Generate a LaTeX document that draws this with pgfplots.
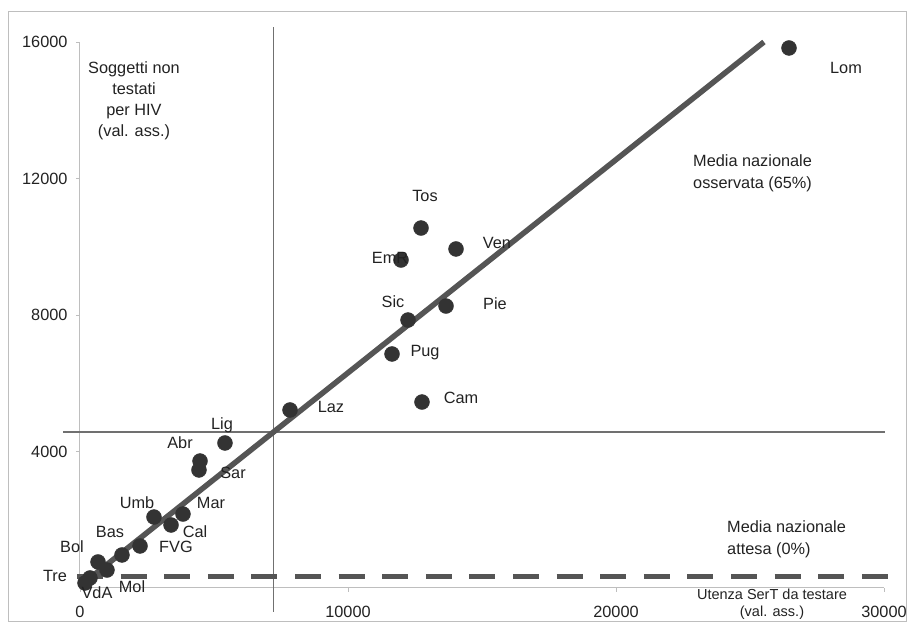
\documentclass[border=0pt]{standalone}
\usepackage{fontspec}
\setmainfont{Liberation Sans}
\usepackage{pgfplots}
\pgfplotsset{compat=1.18}
\definecolor{pt}{HTML}{333333}
\definecolor{ln}{HTML}{555555}
\definecolor{gl}{HTML}{707070}
\definecolor{ax}{HTML}{BEBEBE}
\definecolor{tx}{HTML}{222222}
\begin{document}
\begin{tikzpicture}[x=1pt,y=1pt,
  lbl/.style={font=\fontsize{16.3}{19}\selectfont, text=tx, inner sep=0pt, text height=11.7pt, text depth=0pt, anchor=center}]
\useasboundingbox (0,0) rectangle (910,628);
\draw[ax, line width=1pt] (8,6) rectangle (906,616);
\begin{axis}[
  at={(80pt,40pt)}, anchor=south west,
  scale only axis, width=804pt, height=546pt,
  xmin=0, xmax=30000, ymin=0, ymax=16000,
  axis x line=bottom, axis y line=left,
  axis line style={-, ax, line width=1pt},
  xtick={0,10000,20000,30000}, ytick={4000,8000,12000,16000},
  tick align=outside, major tick length=4pt,
  tick style={ax, line width=0.8pt},
  scaled ticks=false,
  /pgf/number format/1000 sep={},
  /pgf/number format/assume math mode=true,
  tick label style={font=\fontsize{16.3}{19}\selectfont, text=tx},
  xticklabel style={yshift=-11pt},
  yticklabel style={xshift=-5pt},
  clip=false,
]
% regional points (x: SerT users to test, y: subjects not tested for HIV)
\addplot[only marks, mark=*, mark size=7.5pt, mark options={fill=pt, draw=pt}] coordinates {
  (26455,15824) (12724,10549) (14030,9934) (11978,9611) (13657,8263)
  (12239,7853) (11642,6857) (12761,5450) (7836,5216) (5410,4249)
  (4478,3721) (4440,3458) (3843,2168) (2761,2080) (3396,1846)
  (2239,1231) (1567,967) (672,762) (1007,527) (373,293) (187,147)
};
% reference lines
\addplot[gl, line width=1.5pt] coordinates {(7220,-700) (7220,16450)};
\addplot[gl, line width=1.5pt] coordinates {(-630,4570) (30050,4570)};
\addplot[ln, line width=5pt, dash pattern=on 26pt off 17.6pt] coordinates {(-110,350) (30160,350)};
\addplot[ln, line width=5.5pt] coordinates {(0,60) (25520,16000)};
\end{axis}
% region labels
\node[lbl] at (846,{628-68}) {Lom};
\node[lbl] at (425,{628-196}) {Tos};
\node[lbl] at (497,{628-243}) {Ven};
\node[lbl] at (390,{628-258}) {EmR};
\node[lbl] at (495,{628-304}) {Pie};
\node[lbl] at (393,{628-302}) {Sic};
\node[lbl] at (425,{628-351}) {Pug};
\node[lbl] at (461,{628-398}) {Cam};
\node[lbl] at (331,{628-407}) {Laz};
\node[lbl] at (222,{628-424}) {Lig};
\node[lbl] at (180,{628-443}) {Abr};
\node[lbl] at (233,{628-473}) {Sar};
\node[lbl] at (211,{628-503}) {Mar};
\node[lbl] at (137,{628-503}) {Umb};
\node[lbl] at (195,{628-532}) {Cal};
\node[lbl] at (176,{628-547}) {FVG};
\node[lbl] at (110,{628-532}) {Bas};
\node[lbl] at (72,{628-547}) {Bol};
\node[lbl] at (55,{628-576}) {Tre};
\node[lbl] at (97,{628-593}) {VdA};
\node[lbl] at (132,{628-587}) {Mol};
% annotations
\node[font=\fontsize{16.3}{21}\selectfont, text=tx, align=center, anchor=north, inner sep=0pt] at (134,{628-61}) {Soggetti non\\testati\\per HIV\\(val. ass.)};
\node[font=\fontsize{16.3}{22}\selectfont, text=tx, align=left, anchor=north west, inner sep=0pt] at (693,{628-154}) {Media nazionale\\osservata (65\%)};
\node[font=\fontsize{16.3}{22}\selectfont, text=tx, align=left, anchor=north west, inner sep=0pt] at (727,{628-520}) {Media nazionale\\attesa (0\%)};
\node[font=\fontsize{14.5}{17}\selectfont, text=tx, align=center, anchor=north, inner sep=0pt] at (772,{628-589}) {Utenza SerT da testare\\(val. ass.)};
\end{tikzpicture}
\end{document}
